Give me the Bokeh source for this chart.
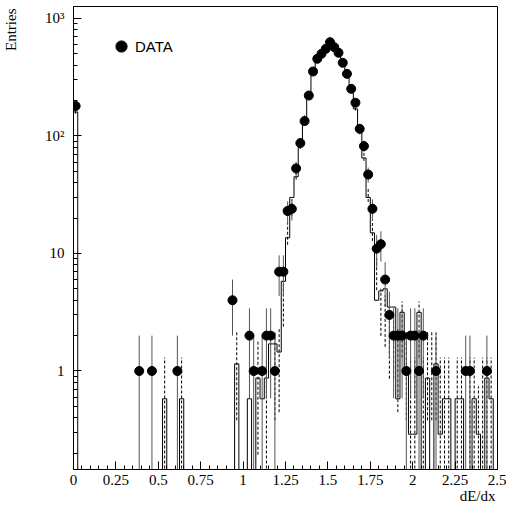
import numpy as np
from bokeh.plotting import figure
from bokeh.models import (ColumnDataSource, FixedTicker, CustomJSTickFormatter, Title,
                          Legend, LegendItem, Range1d)
from bokeh.embed import file_html
from bokeh.resources import INLINE

# ---------------- data ----------------
n_bins = 100
x_min, x_max = 0.0, 2.5

# measured data (bin index -> entries)
data_bins = [0, 15, 18, 24, 37, 41, 42, 44, 45, 46, 47,
             48, 49, 50, 51, 52, 53, 54, 55, 56, 57, 58, 59, 60, 61, 62, 63, 64, 65,
             66, 67, 68, 69, 70, 71, 72, 73, 74, 75, 76, 77, 78, 79, 80, 81, 82,
             85, 92, 93, 97]
data_counts = [180, 1, 1, 1, 4, 2, 1, 1, 2, 2, 1,
               7, 7, 23, 24, 53, 87, 134, 221, 354, 454, 501, 552, 629, 570, 511, 420, 338, 252,
               192, 115, 82, 47, 24, 11, 12, 6, 3, 2, 2, 2, 1, 2, 2, 1, 2,
               1, 1, 1, 1]

# solid histogram (bin index -> content)
mc_bins = [0, 21, 25, 38, 41, 43, 44, 45, 46, 47, 48, 49, 50, 51, 52, 53, 54, 55,
           56, 57, 58, 59, 60, 61, 62, 63, 64, 65, 66, 67, 68, 69, 70, 71, 72, 73,
           74, 75, 76, 77, 78, 79, 80, 81, 83, 85, 86, 87, 88, 90, 91, 94, 95, 97, 98]
mc_values = [160, 0.58, 0.58, 1.15, 0.58, 0.87, 0.58, 0.87, 1.7, 1.7, 1.45, 5.8, 13.6, 30,
             45, 85, 130, 215, 340, 430, 520, 580, 610, 590, 500, 410, 320, 250, 170, 110,
             65, 30, 15, 4.0, 4.8, 5.0, 3.5, 3.5, 0.58, 3.16, 0.98, 0.29, 0.29, 3.16, 0.87,
             1.15, 0.29, 0.58, 0.58, 0.58, 0.58, 0.58, 0.29, 0.87, 0.58]

# dashed histogram drawn as error bars (bin index -> content)
mc2_bins = [0, 21, 25, 38, 43, 45, 47, 48, 49, 50, 51, 52, 53, 54, 55, 56, 57, 58, 59,
            60, 61, 62, 63, 64, 65, 66, 67, 68, 69, 70, 71, 72, 73, 74, 75, 76, 77, 78,
            79, 80, 81, 82, 83, 84, 85, 86, 87, 88, 90, 91, 93, 94, 95, 96, 97, 98]
mc2_values = [165, 0.65, 0.65, 1.3, 1.0, 0.65, 1.3, 1.4, 4, 15, 25, 48, 85, 140, 225, 345,
              440, 525, 590, 615, 585, 505, 415, 325, 245, 175, 112, 68, 32, 16, 7, 3.5, 3,
              2, 2, 1.4, 2.6, 1.3, 0.65, 0.65, 2.6, 0.65, 1.3, 1.3, 1.3, 0.65, 0.65, 0.65,
              0.65, 0.65, 0.65, 0.65, 0.3, 0.65, 0.65, 0.65]
mc2_weight = 0.65

x_ticks = [0, 0.25, 0.5, 0.75, 1, 1.25, 1.5, 1.75, 2, 2.25, 2.5]
y_ticks = [1, 10, 100, 1000]
y_tick_labels = ["1", "10", "10\u00b2", "10\u00b3"]
x_title = "dE/dx"
y_title = "Entries"
legend_label = "DATA"

# ---------------- derived ----------------
bw = (x_max - x_min) / n_bins
edges = x_min + bw * np.arange(n_bins + 1)
centers = edges[:-1] + bw / 2
floor = 1e-3

d_x = centers[data_bins]
d_y = np.array(data_counts, dtype=float)
d_e = np.sqrt(d_y)
d_lo = np.maximum(d_y - d_e, floor)
d_hi = d_y + d_e

mc = np.zeros(n_bins)
mc[mc_bins] = mc_values
mc_plot = np.where(mc > 0, mc, floor)
step_x = np.concatenate([[edges[0]], np.repeat(edges, 2)[1:-1], [edges[-1]]])
step_y = np.concatenate([[floor], np.repeat(mc_plot, 2), [floor]])

m2_x = centers[mc2_bins]
m2_v = np.array(mc2_values, dtype=float)
m2_e = np.sqrt(m2_v * mc2_weight)
m2_lo = np.maximum(m2_v - m2_e, floor)
m2_hi = m2_v + m2_e

# ---------------- figure ----------------
p = figure(frame_width=424, frame_height=463, y_axis_type="log",
           x_range=Range1d(x_min, x_max), y_range=Range1d(0.1451, 1265),
           output_backend="svg", toolbar_location=None,
           min_border_left=73, min_border_right=9, min_border_top=6, min_border_bottom=43)
p.grid.visible = False
p.outline_line_color = "black"
p.outline_line_width = 1
p.background_fill_color = "white"

p.line(step_x, step_y, line_color="black", line_width=1)
p.segment(x0=m2_x, y0=m2_lo, x1=m2_x, y1=m2_hi, line_color="black", line_width=1,
          line_dash="3 2")
p.segment(x0=d_x, y0=d_lo, x1=d_x, y1=d_hi, line_color="#555555", line_width=1)
r_data = p.scatter(d_x, d_y, size=9, fill_color="black", line_color="black")

# axes styling
font = "'Liberation Serif'"
for ax in (p.xaxis[0], p.yaxis[0]):
    ax.major_tick_in = 8
    ax.major_tick_out = 0
    ax.minor_tick_in = 4
    ax.minor_tick_out = 0
    ax.axis_line_color = "black"
    ax.major_tick_line_color = "black"
    ax.minor_tick_line_color = "black"
    ax.major_label_text_font = font
    ax.major_label_text_font_size = "15px"
    ax.major_label_text_color = "black"

p.xaxis[0].ticker = FixedTicker(ticks=x_ticks,
                                minor_ticks=[round(0.05 * k, 2) for k in range(51)])
p.xaxis[0].formatter = CustomJSTickFormatter(code="return String(Math.round(tick*100)/100)")
p.xaxis[0].major_label_standoff = 5

y_minor = [m * 10.0 ** k for k in range(-1, 3) for m in range(2, 10)]
p.yaxis[0].ticker = FixedTicker(ticks=y_ticks, minor_ticks=y_minor)
p.yaxis[0].major_label_overrides = {float(t): s for t, s in zip(y_ticks, y_tick_labels)}
p.yaxis[0].major_label_standoff = 9
# invisible spacer label so the y title sits at the far left of the border
p.yaxis[0].axis_label = " "
p.yaxis[0].axis_label_standoff = 5
p.yaxis[0].axis_label_text_font = font
p.yaxis[0].axis_label_text_font_size = "15px"

# axis titles, right/top aligned as in the original
p.add_layout(Title(text=x_title, align="right", vertical_align="top", offset=2, standoff=0,
                   text_font=font, text_font_size="15px", text_font_style="normal",
                   text_color="black"), "below")
p.add_layout(Title(text=y_title, align="right", vertical_align="bottom", offset=2,
                   standoff=0, text_font=font, text_font_size="15px",
                   text_font_style="normal", text_color="black"), "left")

# legend
empty = ColumnDataSource(data=dict(x=[], y=[]))
r_cross = p.scatter("x", "y", source=empty, marker="cross", size=9, line_color="white",
                    line_width=1)
legend = Legend(items=[LegendItem(label=legend_label, renderers=[r_data, r_cross])],
                location=(34, 409), padding=0, margin=0, spacing=0,
                glyph_width=28, glyph_height=28, label_height=28, label_standoff=-2,
                border_line_color=None, background_fill_alpha=0,
                label_text_font="'Liberation Sans'", label_text_font_size="15px",
                label_text_color="black", label_text_baseline="middle")
p.add_layout(legend)

open("out.html", "w").write(file_html(p, INLINE))
